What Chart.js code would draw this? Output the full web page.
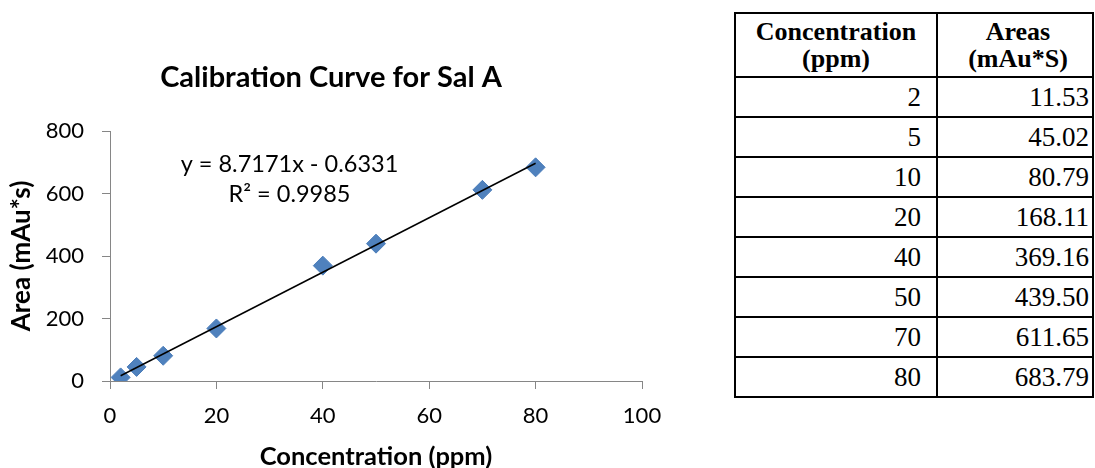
<!DOCTYPE html>
<html>
<head>
<meta charset="utf-8">
<title>Calibration Curve for Sal A</title>
<script src="https://cdn.jsdelivr.net/npm/chart.js@4.4.1/dist/chart.umd.min.js"></script>
<style>
  html, body { margin: 0; padding: 0; background: #fff; }
  #page { position: relative; width: 1095px; height: 468px; overflow: hidden; }
  #curve { position: absolute; left: 0; top: 0; }
  #dataTable {
    position: absolute; left: 734px; top: 12px;
    border-collapse: collapse;
    font-family: "Liberation Serif", "Times New Roman", serif;
    color: #000;
  }
  #dataTable th, #dataTable td { border: 2px solid #000; padding: 0; }
  #dataTable th {
    height: 62px; font-size: 26px; font-weight: bold; line-height: 27px;
    text-align: center; vertical-align: middle;
  }
  #dataTable td { height: 40px; font-size: 27px; text-align: right; vertical-align: middle; line-height: 30px; }
  #dataTable td.conc { width: 202px; padding-right: 15px; box-sizing: border-box; }
  #dataTable td.area { width: 156px; padding-right: 3px; box-sizing: border-box; }
  #dataTable th.areaHead { padding-left: 6px; }
</style>
</head>
<body>
<div id="page">
  <canvas id="curve" width="662" height="468"></canvas>
  <table id="dataTable">
    <thead>
      <tr><th>Concentration<br>(ppm)</th><th class="areaHead">Areas<br>(mAu*S)</th></tr>
    </thead>
    <tbody id="tableBody"></tbody>
  </table>
</div>
<script>
// standards and measured peak areas
const concentrations = [2, 5, 10, 20, 40, 50, 70, 80];
const areas = [11.53, 45.02, 80.79, 168.11, 369.16, 439.50, 611.65, 683.79];
// area strings as printed in the table
const areaLabels = ['11.53', '45.02', '80.79', '168.11', '369.16', '439.50', '611.65', '683.79'];

// linear fit from the worksheet
const slope = 8.7171;
const intercept = -0.6331;
const rSquared = 0.9985;

const xTicks = [0, 20, 40, 60, 80, 100];
const yTicks = [0, 200, 400, 600, 800];

// fill the table
const body = document.getElementById('tableBody');
concentrations.forEach((c, i) => {
  const tr = document.createElement('tr');
  tr.innerHTML = `<td class="conc">${c}</td><td class="area">${areaLabels[i]}</td>`;
  body.appendChild(tr);
});

const points = concentrations.map((c, i) => ({ x: c, y: areas[i] }));
const xFirst = concentrations[0];
const xLast = concentrations[concentrations.length - 1];
const fitLine = [
  { x: xFirst, y: slope * xFirst + intercept },
  { x: xLast, y: slope * xLast + intercept }
];

const AXIS = '#868686';
const FONT = 'Lato';

// equation + R² box inside the plot
const equationLabel = {
  id: 'equationLabel',
  afterDatasetsDraw(chart) {
    const { ctx, chartArea } = chart;
    const cx = chartArea.left + 179.5;
    ctx.save();
    ctx.fillStyle = '#000';
    ctx.font = `23.5px ${FONT}`;
    ctx.textAlign = 'center';
    ctx.textBaseline = 'middle';
    ctx.fillText(`y = ${slope.toFixed(4)}x - ${Math.abs(intercept).toFixed(4)}`, cx, chartArea.top + 33);
    ctx.fillText(`R\u00B2 = ${rSquared.toFixed(4)}`, cx, chartArea.top + 63);
    ctx.restore();
  }
};

new Chart(document.getElementById('curve'), {
  type: 'scatter',
  data: {
    datasets: [
      {
        type: 'line',
        data: fitLine,
        borderColor: '#000',
        borderWidth: 1.5,
        pointRadius: 0,
        fill: false,
        order: 0
      },
      {
        data: points,
        pointStyle: 'rectRot',
        pointRadius: 9.5,
        pointHoverRadius: 9.5,
        backgroundColor: '#4F81BD',
        borderColor: '#4A7CB9',
        borderWidth: 1,
        order: 1
      }
    ]
  },
  options: {
    responsive: false,
    animation: false,
    devicePixelRatio: 1,
    layout: { padding: { left: 0, right: 0, top: 0, bottom: 0 } },
    plugins: {
      legend: { display: false },
      tooltip: { enabled: false },
      title: {
        display: true,
        text: 'Calibration Curve for Sal A',
        color: '#000',
        font: { family: FONT, size: 29, weight: 'bold', lineHeight: 1.2 },
        padding: { top: 60.6, bottom: 35.6 }
      }
    },
    scales: {
      x: {
        type: 'linear',
        min: xTicks[0],
        max: xTicks[xTicks.length - 1],
        afterBuildTicks: s => { s.ticks = xTicks.map(v => ({ value: v })); },
        afterFit: s => { s.height = 87; s.paddingLeft = 0; s.paddingRight = 20; },
        border: { color: AXIS, width: 1 },
        grid: { drawOnChartArea: false, color: AXIS, tickLength: 8 },
        ticks: { color: '#000', padding: 14, maxRotation: 0, font: { family: FONT, size: 22 } },
        title: {
          display: true,
          text: 'Concentration (ppm)',
          color: '#000',
          font: { family: FONT, size: 25.5, weight: 'bold', lineHeight: 0.9 },
          padding: { top: 0, bottom: 0 }
        }
      },
      y: {
        type: 'linear',
        min: yTicks[0],
        max: yTicks[yTicks.length - 1],
        afterBuildTicks: s => { s.ticks = yTicks.map(v => ({ value: v })); },
        afterFit: s => { s.width = 110; },
        border: { color: AXIS, width: 1 },
        grid: { drawOnChartArea: false, color: AXIS, tickLength: 8 },
        ticks: { color: '#000', padding: 18, font: { family: FONT, size: 22 } },
        title: {
          display: true,
          text: 'Area (mAu*s)',
          color: '#000',
          font: { family: FONT, size: 26, weight: 'bold', lineHeight: 1.2 },
          padding: { top: 6.5, bottom: 0 }
        }
      }
    }
  },
  plugins: [equationLabel]
});
</script>
</body>
</html>
